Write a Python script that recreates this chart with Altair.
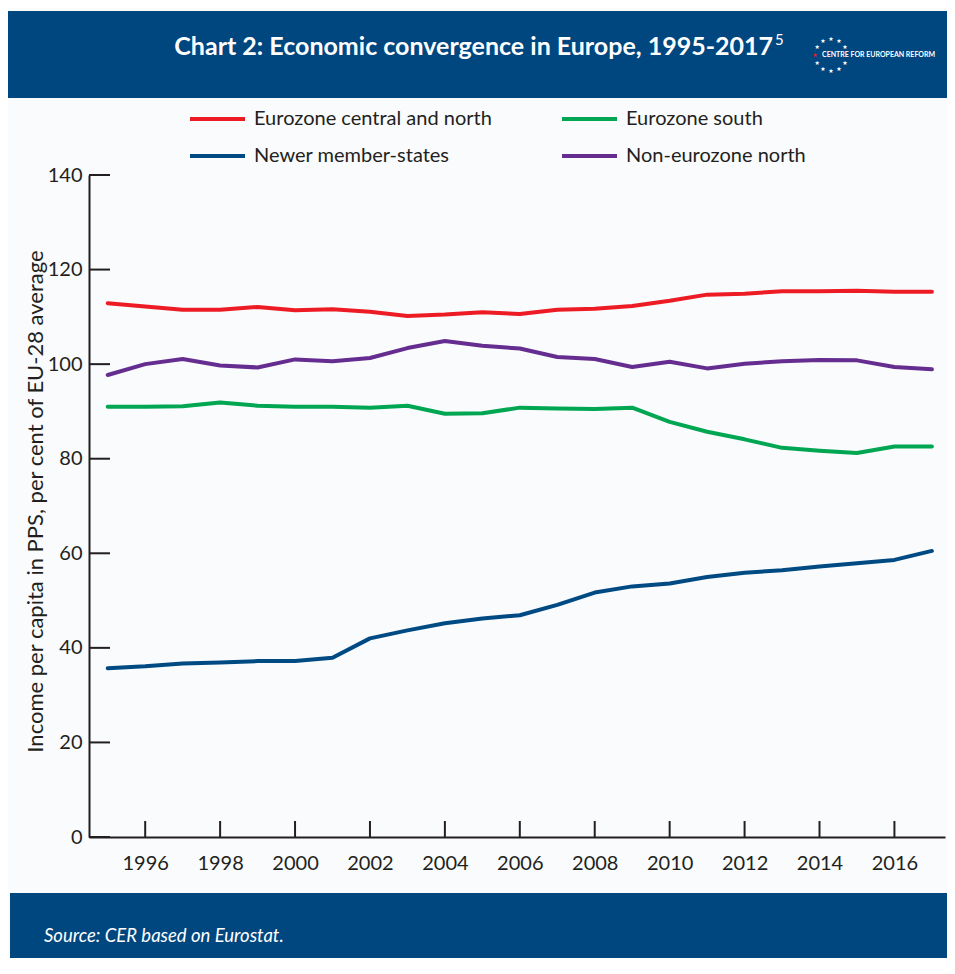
import altair as alt
import pandas as pd

# ---------------- data ----------------
years = list(range(1995, 2018))
# legend order (column by column): left column first, then right column
series_names = ["Eurozone central and north", "Newer member-states",
                "Eurozone south", "Non-eurozone north"]
central_north = [112.9, 112.2, 111.5, 111.5, 112.1, 111.4, 111.6, 111.1, 110.2, 110.5, 111.0, 110.6,
                 111.5, 111.7, 112.3, 113.4, 114.7, 114.9, 115.4, 115.4, 115.5, 115.3, 115.3]
newer = [35.7, 36.1, 36.7, 36.9, 37.2, 37.2, 37.9, 42.0, 43.7, 45.2, 46.2, 46.9,
         49.1, 51.7, 53.0, 53.6, 55.0, 55.9, 56.4, 57.2, 57.9, 58.6, 60.5]
south = [91.0, 91.0, 91.1, 91.9, 91.2, 91.0, 91.0, 90.8, 91.2, 89.5, 89.6, 90.8,
         90.6, 90.5, 90.8, 87.8, 85.7, 84.1, 82.3, 81.7, 81.2, 82.6, 82.6]
non_euro_north = [97.7, 100.0, 101.1, 99.7, 99.3, 101.0, 100.6, 101.3, 103.4, 104.9, 103.9, 103.3,
                  101.5, 101.1, 99.4, 100.5, 99.1, 100.1, 100.6, 100.9, 100.8, 99.4, 98.9]
series_colors = ["#ed1c24", "#004a84", "#00a651", "#652d90"]
x_ticks = [1996, 1998, 2000, 2002, 2004, 2006, 2008, 2010, 2012, 2014, 2016]
y_ticks = [0, 20, 40, 60, 80, 100, 120, 140]

title_text = "Chart 2: Economic convergence in Europe, 1995-2017"
footnote_mark = "5"
logo_text = "CENTRE FOR EUROPEAN REFORM"
source_text = "Source:  CER based on Eurostat."
y_title = "Income per capita in PPS, per cent of EU-28 average"
star_angles = [30, 60, 90, 120, 150, 180, 210, 240, 270, 300, 330]

# ---------------- build ----------------
rows = []
for name, vals in zip(series_names, [central_north, newer, south, non_euro_north]):
    for yr, v in zip(years, vals):
        rows.append({"year": yr, "value": v, "series": name})
df = pd.DataFrame(rows)

W, H = 856, 662
INK = "#231f20"
BLUE = "#00467f"
FONT = "Lato"

xscale = alt.Scale(domain=[1994.5, 2017.35], nice=False, zero=False)
yscale = alt.Scale(domain=[0, 140], nice=False)
x_axis = alt.Axis(values=x_ticks, format="d", title=None, grid=False, ticks=False, tickSize=0,
                  labelPadding=16, labelFont=FONT, labelFontSize=20, labelColor=INK,
                  domainColor=INK, domainWidth=2)
y_axis = alt.Axis(values=y_ticks, title=y_title, grid=False, ticks=False, tickSize=0,
                  labelPadding=7, labelFont=FONT, labelFontSize=20, labelColor=INK,
                  domainColor=INK, domainWidth=2,
                  titleFont=FONT, titleFontSize=22, titleFontWeight="normal", titleColor=INK,
                  titleAngle=270, titleX=-54, titleY=326, titleAlign="center",
                  titleBaseline="middle")
one = pd.DataFrame({"k": [0]})

header = alt.Chart(one).mark_rect(color=BLUE).encode(
    x=alt.value(-81), x2=alt.value(W + 2), y=alt.value(-164), y2=alt.value(-77))
footer = alt.Chart(one).mark_rect(color=BLUE).encode(
    x=alt.value(-79), x2=alt.value(W + 2), y=alt.value(718), y2=alt.value(800))

lines = alt.Chart(df).mark_line(strokeWidth=4, strokeCap="round", strokeJoin="round").encode(
    x=alt.X("year:Q", scale=xscale, axis=x_axis),
    y=alt.Y("value:Q", scale=yscale, axis=y_axis),
    color=alt.Color("series:N", sort=series_names,
                    scale=alt.Scale(domain=series_names, range=series_colors),
                    legend=alt.Legend(orient="none", legendX=99, legendY=-66, columns=2,
                                      columnPadding=68, rowPadding=17, title=None, padding=0,
                                      clipHeight=20,
                                      symbolType="stroke", symbolSize=3025, symbolStrokeWidth=4,
                                      labelFont=FONT, labelFontSize=20, labelColor=INK,
                                      labelOffset=7, labelLimit=400)),
)

ytick = alt.Chart(pd.DataFrame({"value": y_ticks})).mark_rule(color=INK, strokeWidth=2).encode(
    y=alt.Y("value:Q", scale=yscale, axis=y_axis), x=alt.value(0), x2=alt.value(21))
xtick = alt.Chart(pd.DataFrame({"year": x_ticks})).mark_rule(color=INK, strokeWidth=2).encode(
    x=alt.X("year:Q", scale=xscale, axis=x_axis), y=alt.value(H), y2=alt.value(H - 16))

title_mark = alt.Chart(pd.DataFrame({"t": [title_text]})).mark_text(
    align="right", baseline="alphabetic", font=FONT, fontWeight="bold", fontSize=25, color="white"
).encode(text="t:N", x=alt.value(684), y=alt.value(-120))
note_mark = alt.Chart(pd.DataFrame({"t": [footnote_mark]})).mark_text(
    align="left", baseline="alphabetic", font=FONT, fontSize=15, color="white"
).encode(text="t:N", x=alt.value(686), y=alt.value(-130))
logo_mark = alt.Chart(pd.DataFrame({"t": [logo_text]})).mark_text(
    align="left", baseline="middle", font=FONT, fontWeight="bold", fontSize=7, color="white"
).encode(text="t:N", x=alt.value(733), y=alt.value(-120))
source_mark = alt.Chart(pd.DataFrame({"t": [source_text]})).mark_text(
    align="left", baseline="middle", font=FONT, fontStyle="italic", fontSize=18.5, color="white"
).encode(text="t:N", x=alt.value(-45), y=alt.value(761))

stars = alt.Chart(pd.DataFrame({"angle": star_angles})).transform_calculate(
    sx="cos(datum.angle * PI / 180)", sy="sin(datum.angle * PI / 180)"
).mark_text(text="\u2605", font="DejaVu Sans", fontSize=6, align="center", baseline="middle").encode(
    x=alt.value(742), y=alt.value(-120),
    xOffset=alt.XOffset("sx:Q", scale=alt.Scale(domain=[-1, 1], range=[-16, 16])),
    yOffset=alt.YOffset("sy:Q", scale=alt.Scale(domain=[-1, 1], range=[16, -16])),
    color=alt.condition("datum.angle == 180", alt.value("#ed1c24"), alt.value("white")),
)

chart = alt.layer(
    header, footer, lines, ytick, xtick, title_mark, note_mark, logo_mark, source_mark, stars
).properties(
    width=W, height=H,
    autosize=alt.AutoSizeParams(type="none"),
    padding={"left": 81, "top": 167, "right": 2, "bottom": 121},
    background="#f9fbfd",
).configure_view(strokeWidth=0)

chart.save("out.html", embed_options={"renderer": "svg", "actions": False})
